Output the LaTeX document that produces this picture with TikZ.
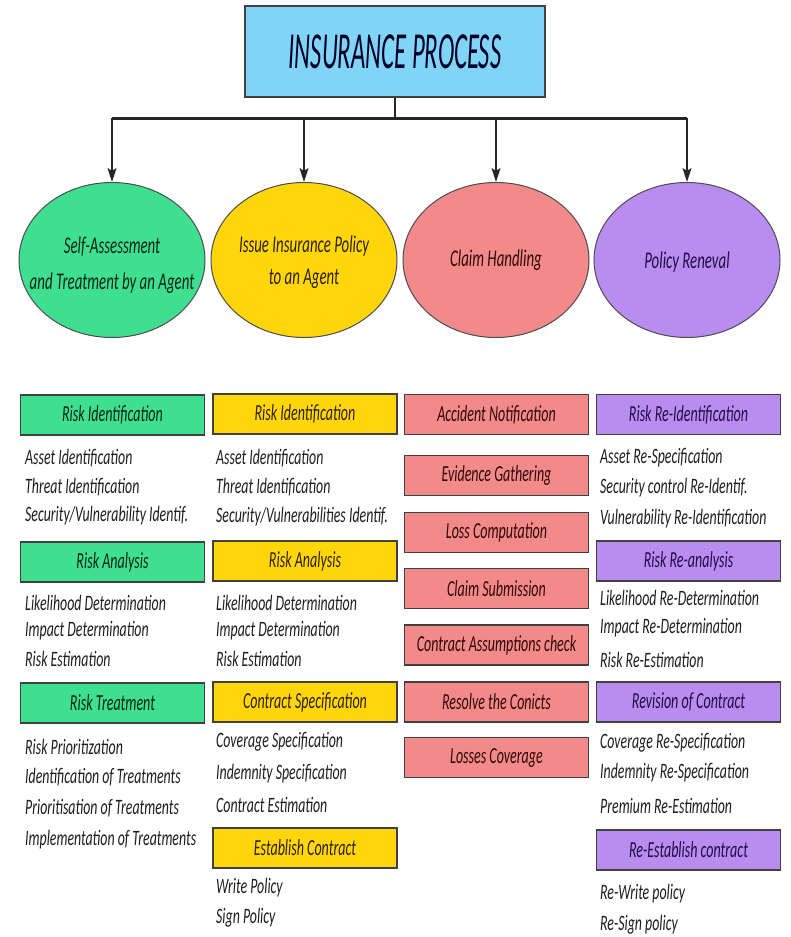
\documentclass[tikz,border=0pt]{standalone}
\usepackage{fontspec}
\setmainfont{Carlito}
\newfontfamily\titlefont{Carlito}[FakeStretch=0.475]
\newfontfamily\boxfont{Carlito}[FakeStretch=0.61]
\newfontfamily\itemfont{Carlito}[FakeStretch=0.63]
\newfontfamily\phasefont{Carlito}[FakeStretch=0.62]
\usetikzlibrary{shapes.geometric,arrows.meta}
\definecolor{cb}{HTML}{80D4F6}
\definecolor{cg}{HTML}{3EE08F}
\definecolor{cy}{HTML}{FFD60A}
\definecolor{cr}{HTML}{F28A8A}
\definecolor{cp}{HTML}{B98CF0}
\definecolor{tg}{HTML}{0A2416}
\definecolor{ty}{HTML}{2E2100}
\definecolor{tr}{HTML}{300808}
\definecolor{tp}{HTML}{220C44}
\definecolor{ti}{HTML}{1E1E1E}
\tikzset{
  headbox/.style={draw=black!75, line width=1.3pt, minimum width=184pt, minimum height=40pt, inner sep=0pt,
    font=\boxfont\itshape\fontsize{23}{26}\selectfont},
  itemtext/.style={anchor=west, inner sep=0pt, text=ti, font=\itemfont\itshape\fontsize{22}{26}\selectfont},
  phase/.style={draw=black!70, line width=1pt, ellipse, minimum width=186pt, minimum height=155pt, inner sep=0pt},
  phasetext/.style={align=center, inner sep=0pt, font=\phasefont\itshape\fontsize{24}{26}\selectfont},
  conn/.style={draw=black!85, line width=1.2pt},
  arr/.style={conn, -{Stealth[length=14pt, width=9pt, inset=3pt]}}
}
\begin{document}
\begin{tikzpicture}[x=1pt, y=-1pt]
\useasboundingbox[fill=white] (0,0) rectangle (791,937);
% title
\node[draw=black!75, line width=1.3pt, fill=cb, minimum width=300pt, minimum height=91pt, inner sep=0pt,
  text=black!85!blue, font=\titlefont\itshape\fontsize{52}{54}\selectfont] (title) at (395,51.5) {INSURANCE PROCESS};
% ellipses
\node[phase, fill=cg] (e1) at (112,260) {};
\node[phase, fill=cy] (e2) at (304,260) {};
\node[phase, fill=cr] (e3) at (496,260) {};
\node[phase, fill=cp] (e4) at (687,260) {};
\node[phasetext, text=tg] (e1t) at (112,265) {Self-Assessment\\[10pt]and Treatment by an Agent};
\node[phasetext, text=ty] (e2t) at (304,262) {Issue Insurance Policy\\[6pt]to an Agent};
\node[phasetext, text=tr] (e3t) at (496,260) {Claim Handling};
\node[phasetext, text=tp] (e4t) at (687,262) {Policy Reneval};
% connectors
\coordinate (hub) at (title.south |- 0,118);
\coordinate (b1) at (e1.north |- hub);
\coordinate (b4) at (e4.north |- hub);
\draw[draw=black!85, line width=3pt] (b1) -- (b4);
\draw[conn] (title.south) -- (hub);
\draw[arr] (b1) -- (e1.north);
\draw[arr] (e2.north |- hub) -- (e2.north);
\draw[arr] (e3.north |- hub) -- (e3.north);
\draw[arr] (b4) -- (e4.north);
% column 1
\node[headbox, fill=cg, text=tg] (g1) at (112.5,415) {Risk Identification};
\node[itemtext] (g1a) at (25,458) {Asset Identification};
\node[itemtext] (g1b) at (25,487) {Threat Identification};
\node[itemtext] (g1c) at (25,516) {Security/Vulnerability Identif.};
\node[headbox, fill=cg, text=tg] (g2) at (112.5,562) {Risk Analysis};
\node[itemtext] (g2a) at (25,603) {Likelihood Determination};
\node[itemtext] (g2b) at (25,631) {Impact Determination};
\node[itemtext] (g2c) at (25,659) {Risk Estimation};
\node[headbox, fill=cg, text=tg] (g3) at (112.5,703) {Risk Treatment};
\node[itemtext] (g3a) at (25,747) {Risk Prioritization};
\node[itemtext] (g3b) at (25,777) {Identification of Treatments};
\node[itemtext] (g3c) at (25,808) {Prioritisation of Treatments};
\node[itemtext] (g3d) at (25,840) {Implementation of Treatments};
% column 2
\node[headbox, fill=cy, text=ty] (y1) at (305,414) {Risk Identification};
\node[itemtext] (y1a) at (216,458) {Asset Identification};
\node[itemtext] (y1b) at (216,487) {Threat Identification};
\node[itemtext] (y1c) at (216,517) {Security/Vulnerabilities Identif.};
\node[headbox, fill=cy, text=ty] (y2) at (305,561) {Risk Analysis};
\node[itemtext] (y2a) at (216,603) {Likelihood Determination};
\node[itemtext] (y2b) at (216,631) {Impact Determination};
\node[itemtext] (y2c) at (216,659) {Risk Estimation};
\node[headbox, fill=cy, text=ty] (y3) at (305,702) {Contract Specification};
\node[itemtext] (y3a) at (216,742) {Coverage Specification};
\node[itemtext] (y3b) at (216,774) {Indemnity Specification};
\node[itemtext] (y3c) at (216,805) {Contract Estimation};
\node[headbox, fill=cy, text=ty] (y4) at (305,848) {Establish Contract};
\node[itemtext] (y4a) at (216,888) {Write Policy};
\node[itemtext] (y4b) at (216,918) {Sign Policy};
% column 3
\node[headbox, fill=cr, text=tr] (r1) at (496.5,414.5) {Accident Notification};
\node[headbox, fill=cr, text=tr] (r2) at (496.5,475.5) {Evidence Gathering};
\node[headbox, fill=cr, text=tr] (r3) at (496.5,532.5) {Loss Computation};
\node[headbox, fill=cr, text=tr] (r4) at (496.5,588.5) {Claim Submission};
\node[headbox, fill=cr, text=tr] (r5) at (496.5,645) {Contract Assumptions check};
\node[headbox, fill=cr, text=tr] (r6) at (496.5,702) {Resolve the Conicts};
\node[headbox, fill=cr, text=tr] (r7) at (496.5,757.5) {Losses Coverage};
% column 4
\node[headbox, fill=cp, text=tp] (p1) at (688.5,414.5) {Risk Re-Identification};
\node[itemtext] (p1a) at (600,458) {Asset Re-Specification};
\node[itemtext] (p1b) at (600,488) {Security control Re-Identif.};
\node[itemtext] (p1c) at (600,519) {Vulnerability Re-Identification};
\node[headbox, fill=cp, text=tp] (p2) at (688.5,561) {Risk Re-analysis};
\node[itemtext] (p2a) at (600,598) {Likelihood Re-Determination};
\node[itemtext] (p2b) at (600,628) {Impact Re-Determination};
\node[itemtext] (p2c) at (600,660) {Risk Re-Estimation};
\node[headbox, fill=cp, text=tp] (p3) at (688.5,702) {Revision of Contract};
\node[itemtext] (p3a) at (600,743) {Coverage Re-Specification};
\node[itemtext] (p3b) at (600,773) {Indemnity Re-Specification};
\node[itemtext] (p3c) at (600,806) {Premium Re-Estimation};
\node[headbox, fill=cp, text=tp] (p4) at (688.5,850) {Re-Establish contract};
\node[itemtext] (p4a) at (600,894) {Re-Write policy};
\node[itemtext] (p4b) at (600,925) {Re-Sign policy};
\end{tikzpicture}
\end{document}
